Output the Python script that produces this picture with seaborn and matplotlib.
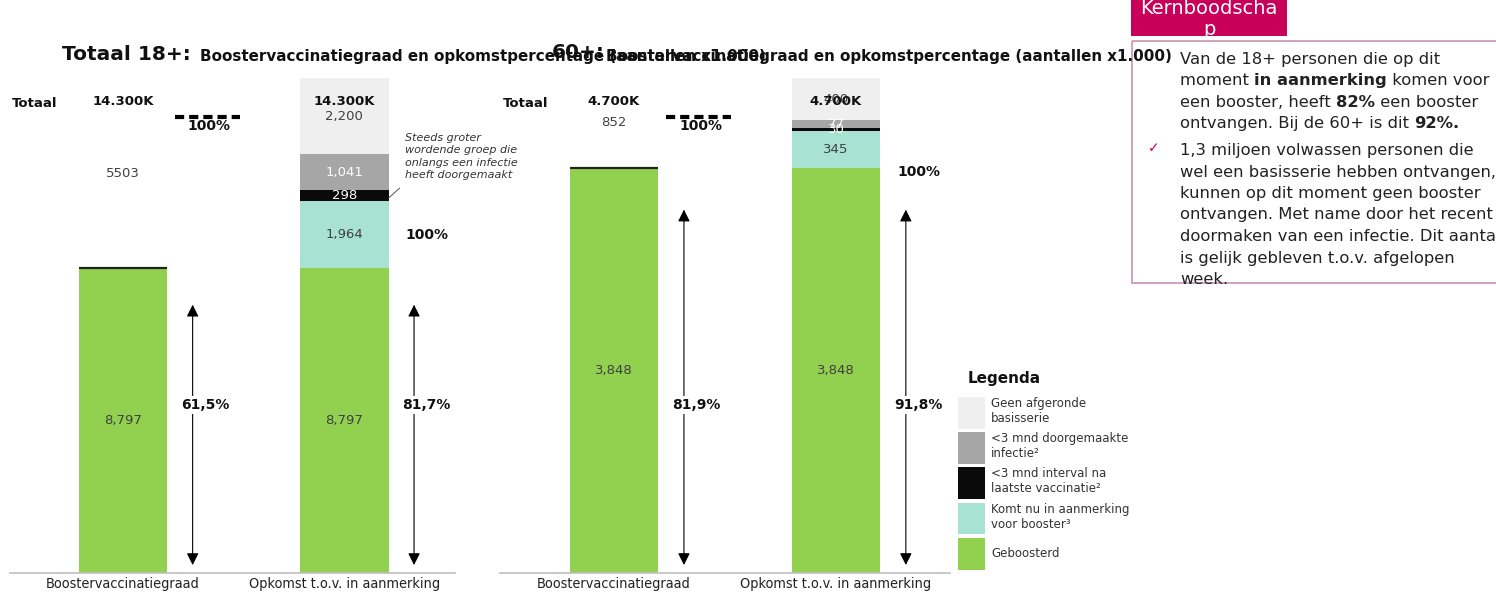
import matplotlib
matplotlib.use("Agg")
import matplotlib.pyplot as plt
from matplotlib.patches import Patch, Rectangle
import numpy as np
import pandas as pd
import seaborn as sns

W, H = 1496, 596

# ---- data (aantallen x1.000) ----
bar_names = ["Boostervaccinatiegraad", "Opkomst t.o.v. in aanmerking"]
segments = ["Geboosterd", "Komt nu in aanmerking", "<3 mnd interval",
            "<3 mnd infectie", "Geen afgeronde basisserie"]
seg_colors = ["#92D050", "#A8E2D3", "#0A0A0A", "#A6A6A6", "#EFEFEF"]
lbl_colors = ["#404040", "#404040", "white", "white", "#404040"]

booster_18 = [8797, 0, 0, 0, 5503]
opkomst_18 = [8797, 1964, 298, 1041, 2200]
booster_60 = [3848, 0, 0, 0, 852]
opkomst_60 = [3848, 345, 30, 77, 400]

totals = ["14.300K", "4.700K"]
pct_booster = ["61,5%", "81,9%"]
pct_opkomst = ["81,7%", "91,8%"]
arrow_18 = (230, 7750)
arrow_60 = (76, 3450)
hundred_opkomst = [9760, 3810]

legend_labels = ["Geen afgeronde\nbasisserie", "<3 mnd doorgemaakte\ninfectie²",
                 "<3 mnd interval na\nlaatste vaccinatie²",
                 "Komt nu in aanmerking\nvoor booster³", "Geboosterd"]

sns.set_theme(style="white")
plt.rcParams["font.family"] = ["DejaVu Sans"]

fig = plt.figure(figsize=(W / 100, H / 100), dpi=100)
over = fig.add_axes([0, 0, 1, 1])
over.set_xlim(0, W)
over.set_ylim(H, 0)
over.axis("off")


def draw_panel(ax, booster, opkomst, total_lbl, pct_b, pct_o, arrow, hundred_y, xlim):
    df = pd.DataFrame({
        "bar": np.repeat(bar_names, len(segments)),
        "segment": segments * 2,
        "value": booster + opkomst,
        "seg_idx": list(range(len(segments))) * 2,
    })
    df["top"] = df.groupby("bar")["value"].cumsum()
    # draw stacked layers back to front
    for i in reversed(range(len(segments))):
        sub = df[df["seg_idx"] == i]
        pal = {bar_names[0]: seg_colors[i], bar_names[1]: seg_colors[i]}
        if i == len(segments) - 1:
            pal[bar_names[0]] = "white"
        sns.barplot(data=sub, x="bar", y="top", hue="bar", palette=pal,
                    order=bar_names, hue_order=bar_names, width=0.4,
                    saturation=1, linewidth=0, errorbar=None, legend=False, ax=ax)

    ax.set_ylim(0, sum(opkomst))
    ax.set_xlim(*xlim)
    xt = ax.get_xaxis_transform()

    # value labels
    for b, vals in enumerate([booster, opkomst]):
        cum = np.cumsum(vals)
        for i, v in enumerate(vals):
            if v == 0:
                continue
            s = f"{v}" if (b == 0 and i == len(vals) - 1) else f"{v:,}"
            ax.text(b, cum[i] - v / 2, s, ha="center", va="center",
                    fontsize=9.5, color=lbl_colors[i])
        ax.text(b, 0.953, total_lbl, transform=xt, ha="center", va="center",
                fontsize=9.5, weight="bold", color="#111")

    # dark line on top of the green booster bar
    ax.hlines(booster[0], -0.2, 0.2, color="#222", lw=1.6)

    ax.text(-0.5, 0.949, "Totaal", transform=xt, ha="left", va="center",
            fontsize=9.5, weight="bold", color="#111")

    # 100% dashed marker for booster bar
    ax.plot([0.234, 0.527], [0.921, 0.921], transform=xt, color="black",
            lw=3, ls=(0, (2.2, 1.2)), solid_capstyle="butt")
    ax.text(0.39, 0.903, "100%", transform=xt, ha="center", va="center",
            fontsize=10, weight="bold", color="#111")
    ax.text(1.372, hundred_y, "100%", ha="center", va="center",
            fontsize=10, weight="bold", color="#111")

    # arrows + percentages
    for b, pct in enumerate([pct_b, pct_o]):
        ax.annotate("", xy=(b + 0.315, arrow[1]), xytext=(b + 0.315, arrow[0]),
                    arrowprops=dict(arrowstyle="<|-|>", color="black", lw=0.8,
                                    mutation_scale=18, shrinkA=0, shrinkB=0))
        ax.text(b + 0.37, 0.339, pct, transform=xt, ha="center", va="center",
                fontsize=10, weight="bold", color="#111",
                bbox=dict(facecolor="white", edgecolor="none", pad=1.5))

    for s in ["left", "right", "top"]:
        ax.spines[s].set_visible(False)
    ax.spines["bottom"].set_color("#BFBFBF")
    ax.spines["bottom"].set_linewidth(1.2)
    ax.set_yticks([])
    ax.set_xlabel("")
    ax.set_ylabel("")
    ax.tick_params(axis="x", length=0, pad=3)
    for t in ax.get_xticklabels():
        t.set_fontfamily(["DejaVu Sans"])
        t.set_fontstretch("condensed")
        t.set_fontsize(10.4)
        t.set_color("#222")


ax1 = fig.add_axes([10 / W, 23 / H, 445 / W, 495 / H])
ax1.patch.set_visible(False)
draw_panel(ax1, booster_18, opkomst_18, totals[0], pct_booster[0], pct_opkomst[0],
           arrow_18, hundred_opkomst[0], (-0.51, 1.5))
ax2 = fig.add_axes([500 / W, 23 / H, 450 / W, 495 / H])
ax2.patch.set_visible(False)
draw_panel(ax2, booster_60, opkomst_60, totals[1], pct_booster[1], pct_opkomst[1],
           arrow_60, hundred_opkomst[1], (-0.514, 1.514))

# annotation next to the 18+ opkomst bar
ax1.text(1.275, 0.889, "Steeds groter\nwordende groep die\nonlangs een infectie\nheeft doorgemaakt",
         transform=ax1.get_xaxis_transform(), ha="left", va="top", fontsize=8,
         style="italic", color="#333", linespacing=1.3)
ax1.annotate("", xy=(1.25, 11120), xytext=(1.2, 10830),
             arrowprops=dict(arrowstyle="-", color="#555", lw=0.7, shrinkA=0, shrinkB=0))

# titles
over.text(62, 55, "Totaal 18+:", fontsize=14.5, weight="bold", va="center", ha="left", color="#111")
over.text(200, 57, "Boostervaccinatiegraad en opkomstpercentage (aantallen x1.000)",
          fontsize=10.9, weight="bold", va="center", ha="left", color="#111")
over.text(552, 53, "60+:", fontsize=14.5, weight="bold", va="center", ha="left", color="#111")
over.text(606, 57, "Boostervaccinatiegraad en opkomstpercentage (aantallen x1.000)",
          fontsize=10.9, weight="bold", va="center", ha="left", color="#111")

# legend
over.text(968, 378, "Legenda", fontsize=11, weight="bold", ha="left", va="center", color="#111")
handles = [Patch(facecolor=c, edgecolor="none", label=l)
           for c, l in zip(seg_colors[::-1], legend_labels)]
fig.legend(handles=handles, loc="upper left", bbox_to_anchor=(958 / W, 1 - 397 / H),
           frameon=False, fontsize=8.5, handlelength=2.3, handleheight=3.75,
           labelspacing=0.3, handletextpad=0.5, borderpad=0, borderaxespad=0,
           labelcolor="#333")

# Kernboodschap box
over.add_patch(Rectangle((1131, 0), 156, 36, facecolor="#C8005A", edgecolor="none"))
over.text(1209, 14, "Kernboodscha", color="white", fontsize=14, ha="center", va="baseline")
over.text(1209, 35, "p", color="white", fontsize=14, ha="center", va="baseline")
over.add_patch(Rectangle((1132, 41), 400, 242, facecolor="none", edgecolor="#C893B4", lw=1.2,
                         clip_on=False))


def rich_line(x, y, chunks, size=11.8):
    prev = over.text(x, y, chunks[0][0], fontsize=size, va="bottom", ha="left",
                     weight="bold" if chunks[0][1] else "normal", color="#222")
    for txt, bold in chunks[1:]:
        prev = over.annotate(txt, xy=(1, 0), xycoords=prev, va="bottom", ha="left",
                             fontsize=size, weight="bold" if bold else "normal", color="#222")


para1 = [
    [("Van de 18+ personen die op dit", False)],
    [("moment ", False), ("in aanmerking", True), (" komen voor", False)],
    [("een booster, heeft ", False), ("82%", True), (" een booster", False)],
    [("ontvangen. Bij de 60+ is dit ", False), ("92%.", True)],
]
para2 = ["1,3 miljoen volwassen personen die", "wel een basisserie hebben ontvangen,",
         "kunnen op dit moment geen booster", "ontvangen. Met name door het recent",
         "doormaken van een infectie. Dit aantal", "is gelijk gebleven t.o.v. afgelopen",
         "week."]
for k, line in enumerate(para1):
    rich_line(1180, 67 + k * 21.3, line)
for k, line in enumerate(para2):
    rich_line(1180, 158 + k * 21.5, [(line, False)])
over.text(1148, 148, "✓", color="#C8005A", fontsize=10, ha="left", va="center")

fig.savefig("out.png", dpi=100)
